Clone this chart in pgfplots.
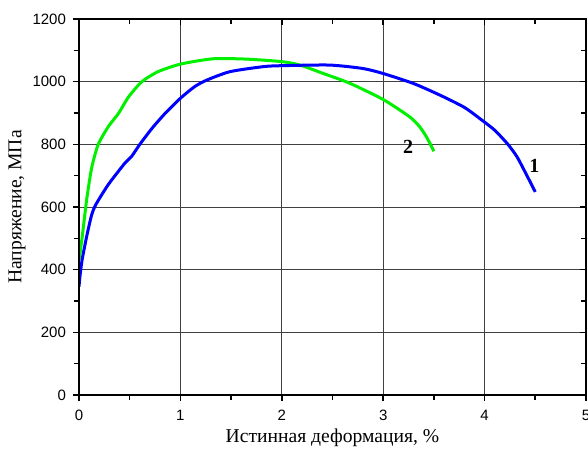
\documentclass[border=0pt]{standalone}
\usepackage{fontspec}
\setmainfont{Liberation Serif}
\newfontfamily\arial{Liberation Sans}
\usepackage{pgfplots}
\pgfplotsset{compat=1.18}
\definecolor{curveblue}{RGB}{0,0,255}
\definecolor{curvegreen}{RGB}{0,240,0}

\pgfplotstableread{
x y
0.00 346
0.01 380
0.03 430
0.075 505
0.125 575
0.17 610
0.29 672
0.45 739
0.52 762
0.60 800
0.72 851
0.85 899
1.00 947
1.14 984
1.26 1005
1.49 1032
1.82 1048
2.00 1051
2.47 1053
2.80 1042
3.00 1026
3.30 994
3.56 957
3.80 918
3.97 878
4.10 845
4.23 800
4.32 760
4.41 705
4.50 648
}\curveone

\pgfplotstableread{
x y
0.00 430
0.03 500
0.075 622
0.125 725
0.19 800
0.29 857
0.39 899
0.49 952
0.62 1000
0.78 1032
1.00 1056
1.32 1073
1.65 1072
2.00 1064
2.18 1053
2.41 1026
2.67 995
3.00 943
3.26 888
3.36 856
3.43 822
3.50 778
}\curvetwo

\begin{document}
\begin{tikzpicture}
\pgfplotsset{
  basestyle/.style={
    scale only axis, width=253.5pt, height=188pt,
    xmin=0, xmax=5, ymin=0, ymax=1200,
    xtick={0,1,2,3,4,5}, ytick={0,200,400,600,800,1000,1200},
    minor x tick num=1, minor y tick num=1,
    axis line style={line width=1pt,black},
    major tick length=3pt, minor tick length=2.5pt,
    every tick/.style={black,line width=0.8pt},
  }
}
\begin{axis}[
  basestyle, name=ax,
  xtick pos=bottom, ytick pos=left, tick align=outside,
  grid=major,
  major grid style={line width=0.5pt,black!75},
  /pgf/number format/assume math mode=true,
  /pgf/number format/1000 sep={},
  ticklabel style={font=\arial\fontsize{7.5}{9}\selectfont},
  xticklabel style={yshift=-1pt},
  xlabel={Истинная деформация, \%},
  ylabel={Напряжение, МПа},
  label style={font=\fontsize{9.8}{11}\selectfont},
  xlabel style={at={(axis description cs:0.5,-0.114)},anchor=center},
  ylabel style={at={(axis description cs:-0.122,0.5)},anchor=center},
]
\addplot[curvegreen, line width=1.5pt, smooth, tension=0.4] table[x=x,y=y] {\curvetwo};
\addplot[curveblue, line width=1.5pt, smooth, tension=0.4] table[x=x,y=y] {\curveone};
\node[font=\fontsize{10}{12}\selectfont\bfseries] at (axis cs:3.245,793) {2};
\node[font=\fontsize{10}{12}\selectfont\bfseries] at (axis cs:4.49,731) {1};
\end{axis}
\begin{axis}[
  basestyle,
  xtick pos=top, ytick pos=right, tick align=inside,
  xticklabels={}, yticklabels={},
]
\end{axis}
\pgfresetboundingbox
\path ([shift={(-39.5pt,-27.5pt)}]ax.south west) rectangle ([shift={(1pt,9.5pt)}]ax.north east);
\end{tikzpicture}
\end{document}
